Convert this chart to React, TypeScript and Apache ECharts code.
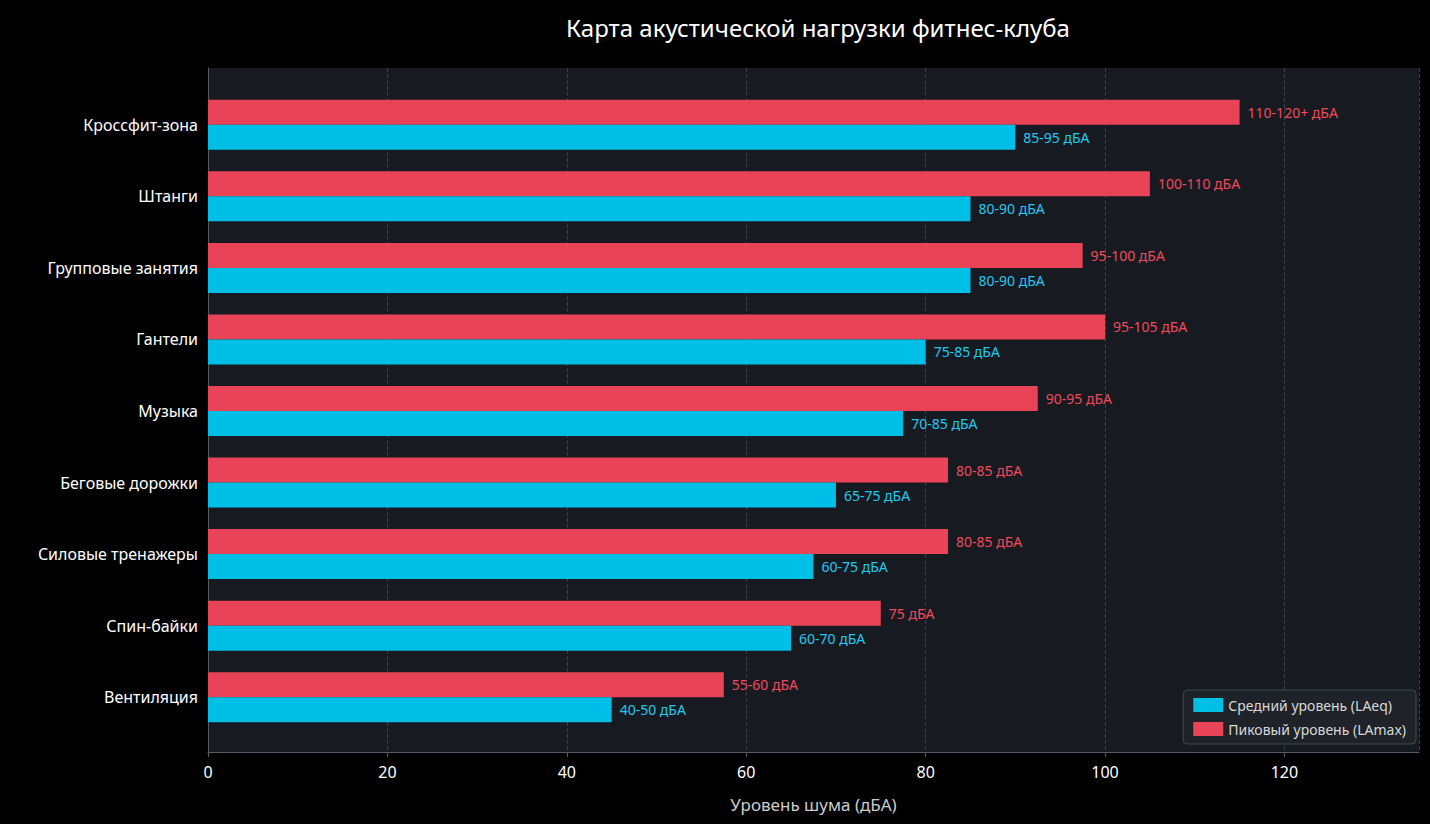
import React, { useEffect, useRef } from "react";
import * as echarts from "echarts";

const categories = ["Вентиляция", "Спин-байки", "Силовые тренажеры", "Беговые дорожки", "Музыка", "Гантели", "Групповые занятия", "Штанги", "Кроссфит-зона"];
const avgValues = [45, 65, 67.5, 70, 77.5, 80, 85, 85, 90];
const avgLabels = ["40-50 дБА", "60-70 дБА", "60-75 дБА", "65-75 дБА", "70-85 дБА", "75-85 дБА", "80-90 дБА", "80-90 дБА", "85-95 дБА"];
const peakValues = [57.5, 75, 82.5, 82.5, 92.5, 100, 97.5, 105, 115];
const peakLabels = ["55-60 дБА", "75 дБА", "80-85 дБА", "80-85 дБА", "90-95 дБА", "95-105 дБА", "95-100 дБА", "100-110 дБА", "110-120+ дБА"];

export default function App() {
  const ref = useRef<HTMLDivElement>(null);
  useEffect(() => {
    const chart = echarts.init(ref.current!, null, { renderer: "svg" });
    const font = "Noto Sans";
    chart.setOption({
      animation: false,
      backgroundColor: "#000000",
      textStyle: { fontFamily: font },
      title: {
        text: "Карта акустической нагрузки фитнес-клуба",
        left: 813, top: 10, textAlign: "center",
        textStyle: { color: "#ffffff", fontSize: 24, fontWeight: "normal", fontFamily: font },
      },
      grid: [
        { left: 208, right: 11, top: 68, bottom: 72, show: true, backgroundColor: "#171a21", borderWidth: 0 },
        { left: 208, right: 11, top: 89, bottom: 91 },
      ],
      legend: {
        orient: "vertical", right: 14, bottom: 80,
        data: ["Средний уровень (LAeq)", "Пиковый уровень (LAmax)"],
        backgroundColor: "#1f2228", borderColor: "#444850", borderWidth: 1, borderRadius: 4,
        padding: [8, 10], itemWidth: 30, itemHeight: 14, itemGap: 10,
        icon: "rect",
        textStyle: { color: "#d8d8d8", fontSize: 14, fontFamily: font },
      },
      xAxis: [
        {
          gridIndex: 0, type: "value", min: 0, max: 135, interval: 20,
          name: "Уровень шума (дБА)", nameLocation: "middle", nameGap: 44,
          nameTextStyle: { color: "#cccccc", fontSize: 17 },
          axisLine: { show: true, lineStyle: { color: "#555a63" } },
          axisTick: { show: true, lineStyle: { color: "#555a63" } },
          axisLabel: { color: "#ffffff", fontSize: 16, margin: 12, showMaxLabel: false },
          splitLine: { show: true, lineStyle: { color: "#3a3f48", type: "dashed" } },
        },
        { gridIndex: 1, type: "value", min: 0, max: 135, show: false, splitLine: { show: false } },
      ],
      yAxis: [
        {
          gridIndex: 0, type: "value", min: 0, max: 1,
          axisLine: { show: true, lineStyle: { color: "#555a63" } },
          axisTick: { show: false }, axisLabel: { show: false }, splitLine: { show: false },
        },
        {
          gridIndex: 1, type: "category", data: categories,
          axisLine: { show: false }, axisTick: { show: false },
          axisLabel: { color: "#ffffff", fontSize: 16, margin: 10 },
        },
      ],
      series: [
        {
          name: "Пиковый уровень (LAmax)", type: "bar", data: peakValues,
          xAxisIndex: 1, yAxisIndex: 1,
          barWidth: 25, barGap: "0%", barCategoryGap: "30%",
          itemStyle: { color: "#e84356" },
          label: { show: true, position: "right", color: "#f04a5c", fontSize: 14, distance: 8,
            formatter: (p: any) => peakLabels[p.dataIndex] },
        },
        {
          name: "Средний уровень (LAeq)", type: "bar", data: avgValues,
          xAxisIndex: 1, yAxisIndex: 1,
          barWidth: 25, barGap: "0%", barCategoryGap: "30%",
          itemStyle: { color: "#00bfe6" },
          label: { show: true, position: "right", color: "#1ecbf0", fontSize: 14, distance: 8,
            formatter: (p: any) => avgLabels[p.dataIndex] },
        },
      ],
    });
    return () => chart.dispose();
  }, []);
  return <div ref={ref} style={{ width: 1430, height: 824, position: "absolute", left: 0, top: 0 }} />;
}
